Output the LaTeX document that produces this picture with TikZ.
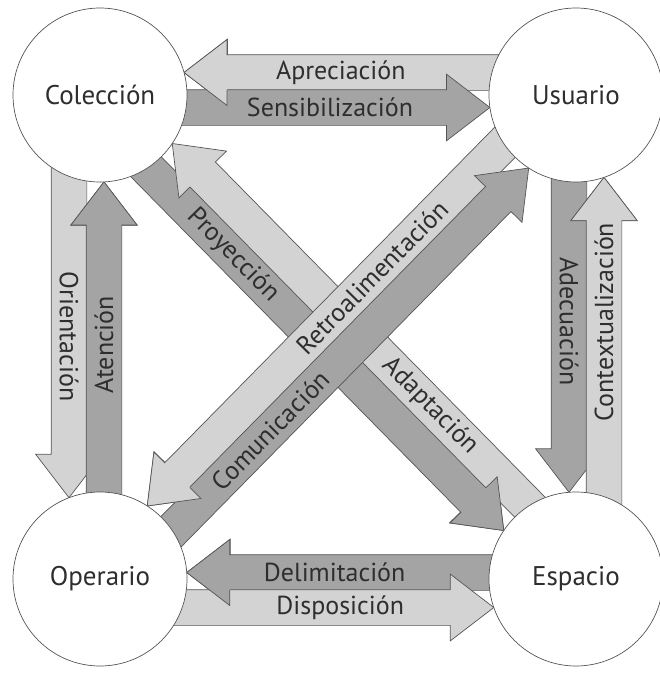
\documentclass[tikz,border=0pt]{standalone}
\usepackage{fontspec}
\setmainfont{PT Sans}
\usetikzlibrary{calc,shapes.arrows,backgrounds}

\definecolor{claro}{HTML}{D3D3D3}
\definecolor{oscuro}{HTML}{A4A4A4}
\definecolor{borde}{HTML}{555555}
\definecolor{texto}{HTML}{2E2E2E}

\tikzset{
	nodo/.style={circle,draw=borde,line width=0.7pt,fill=white,minimum size=174pt,inner sep=0pt,
		text=texto,font=\fontsize{27}{32}\selectfont},
	bloque/.style={single arrow,draw=borde,line width=0.7pt,inner xsep=0pt,inner ysep=17.5pt,outer sep=0pt,
		single arrow head extend=15.5pt,single arrow tip angle=75},
	etiqueta/.style={text=texto,inner sep=0pt,font=\fontsize{26}{30}\selectfont},
}

% desde, hacia, desplazamiento, relleno, texto, posicion
\newcommand{\flecha}[6]{%
	\path let \p1=($(#1)!#3pt!-90:(#2)$), \p2=($(#2)!#3pt!90:(#1)$),
		\n1={atan2(\y2-\y1,\x2-\x1)}, \n2={veclen(\x2-\x1,\y2-\y1)},
		\n3={sqrt(87*87-#3*#3)*1pt} in
		($(\p2)!\n3!(\p1)$) node[bloque,fill=#4,rotate=\n1,minimum height=\n2-\n3,anchor=tip] {}
		(\p1) -- ($(\p2)!\n3!(\p1)$) node[etiqueta,pos=#6,sloped] {#5};
}
% la punta otra vez, encima de la flecha vecina
\newcommand{\punta}[4]{%
	\path let \p1=($(#1)!#3pt!-90:(#2)$), \p2=($(#2)!#3pt!90:(#1)$),
		\n3={sqrt(87*87-#3*#3)*1pt},
		\p3=($(\p2)!\n3!(\p1)$), \p4=($(\p3)!43pt!(\p1)$) in
		[fill=#4,draw=borde,line width=0.7pt,line join=miter]
		($(\p4)!17.5pt!90:(\p3)$) -- ($(\p4)!33pt!90:(\p3)$) -- (\p3)
		-- ($(\p4)!33pt!-90:(\p3)$) -- ($(\p4)!17.5pt!-90:(\p3)$);
}

\begin{document}
\begin{tikzpicture}[x=1pt,y=-1pt]
		\useasboundingbox (0,0) rectangle (660,673);
		\node[nodo] (col) at (100,95) {Colección};
		\node[nodo] (usu) at (576,95) {Usuario};
		\node[nodo] (ope) at (100,579) {Operario};
		\node[nodo] (esp) at (576,579) {Espacio};
		%
		\begin{pgfonlayer}{background}
		\flecha{usu}{col}{22.5}{claro}{Apreciación}{0.6}
		\flecha{col}{usu}{12.5}{oscuro}{Sensibilización}{0.59}
		\flecha{col}{ope}{31}{claro}{Orientación}{0.6}
		\flecha{ope}{col}{4}{oscuro}{Atención}{0.59}
		\flecha{usu}{esp}{7}{oscuro}{Adecuación}{0.57}
		\flecha{esp}{usu}{28}{claro}{Contextualización}{0.64}
		\flecha{esp}{ope}{6.5}{oscuro}{Delimitación}{0.62}
		\flecha{ope}{esp}{28.5}{claro}{Disposición}{0.61}
		\punta{usu}{col}{22.5}{claro}
		\punta{ope}{col}{4}{oscuro}
		\punta{esp}{usu}{28}{claro}
		\punta{esp}{ope}{6.5}{oscuro}
		% las diagonales
		\flecha{col}{esp}{17.5}{oscuro}{Proyección}{0.35}
		\flecha{esp}{col}{17.5}{claro}{Adaptación}{0.38}
		\punta{col}{esp}{17.5}{oscuro}
		\flecha{usu}{ope}{17.5}{claro}{Retroalimentación}{0.46}
		\flecha{ope}{usu}{17.5}{oscuro}{Comunicación}{0.38}
		\punta{usu}{ope}{17.5}{claro}
		\end{pgfonlayer}
\end{tikzpicture}
\end{document}
